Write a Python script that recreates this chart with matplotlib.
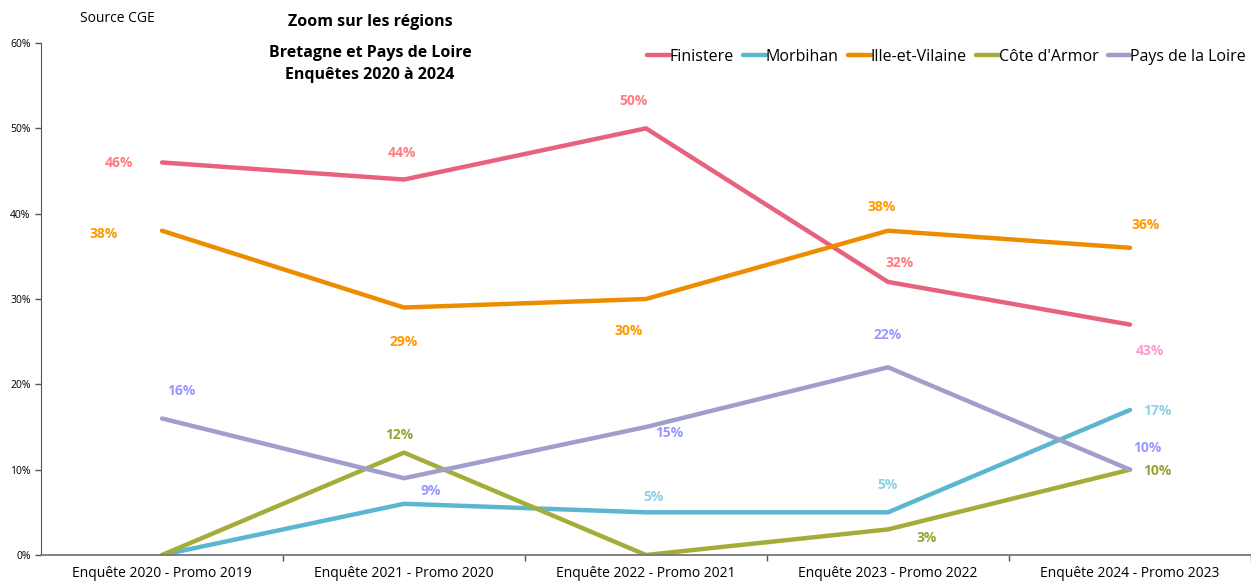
import matplotlib.pyplot as plt
from matplotlib.ticker import FuncFormatter, FixedLocator

plt.rcParams['font.family'] = ['Open Sans', 'DejaVu Sans']

## Data
categories = ['Enquête 2020 - Promo 2019', 'Enquête 2021 - Promo 2020', 'Enquête 2022 - Promo 2021',
              'Enquête 2023 - Promo 2022', 'Enquête 2024 - Promo 2023']
finistere = [46, 44, 50, 32, 27]
morbihan = [0, 6, 5, 5, 17]
ille_et_vilaine = [38, 29, 30, 38, 36]
cote_armor = [0, 12, 0, 3, 10]
pays_loire = [16, 9, 15, 22, 10]

## Data labels as printed on the chart (None = no label)
finistere_lbl = ['46%', '44%', '50%', '32%', '43%']
morbihan_lbl = [None, None, '5%', '5%', '17%']
ille_lbl = ['38%', '29%', '30%', '38%', '36%']
cote_lbl = [None, '12%', None, '3%', '10%']
pays_lbl = ['16%', '9%', '15%', '22%', '10%']

## label offsets in pixels (dx, dy)
finistere_off = [(-43, -1), (-2, 27), (-13, 27), (12, 19), (20, -26)]
morbihan_off = [None, None, (8, 15), (0, 27), (27, -1)]
ille_off = [(-58, -3), (0, -34), (-17, -32), (-6, 24), (16, 23)]
cote_off = [None, (-5, 18), None, (39, -9), (27, -1)]
pays_off = [(19, 27), (27, -13), (23, -6), (0, 32), (17, 22)]

series = [
    ('Finistere', finistere, finistere_lbl, finistere_off, '#E8627F',
     ['#FF7C80', '#FF7C80', '#FF7C80', '#FF7C80', '#FF99CC']),
    ('Morbihan', morbihan, morbihan_lbl, morbihan_off, '#5BB7D0', ['#8ED2E6'] * 5),
    ('Ille-et-Vilaine', ille_et_vilaine, ille_lbl, ille_off, '#EE8C00', ['#FF9900'] * 5),
    ("Côte d'Armor", cote_armor, cote_lbl, cote_off, '#A4AD3A', ['#9AA336'] * 5),
    ('Pays de la Loire', pays_loire, pays_lbl, pays_off, '#A09FCC', ['#9999FF'] * 5),
]

fig = plt.figure(figsize=(12.51, 5.86), dpi=100)
ax = fig.add_axes([41 / 1251, 31 / 586, 1 - 41 / 1251, 512 / 586])

x = list(range(len(categories)))
for name, vals, lbls, offs, col, lcols in series:
    ax.plot(x, vals, color=col, lw=3.2, solid_capstyle='round', solid_joinstyle='round', label=name)
    for i, (v, t, o) in enumerate(zip(vals, lbls, offs)):
        if t is None:
            continue
        ax.annotate(t, (i, v), xytext=o, textcoords='offset pixels', ha='center', va='center',
                    fontsize=10, fontweight='bold', color=lcols[i])

ax.set_xlim(-0.5, 4.5)
ax.set_ylim(0, 60)
ax.set_yticks(range(0, 61, 10))
ax.yaxis.set_major_formatter(FuncFormatter(lambda v, p: f'{v:.0f}%'))
ax.tick_params(axis='y', labelsize=7.5, length=4, color='#555555', width=1)
ax.set_xticks(x)
ax.set_xticklabels(categories, fontsize=10)
ax.tick_params(axis='x', length=0, pad=8)
ax.xaxis.set_minor_locator(FixedLocator([0.5, 1.5, 2.5, 3.5, 4.5]))
ax.tick_params(axis='x', which='minor', length=4, color='#555555', width=1)
for s in ['top', 'right']:
    ax.spines[s].set_visible(False)
ax.spines['left'].set_color('#555555')
ax.spines['bottom'].set_color('#777777')
ax.spines['bottom'].set_linewidth(1.3)

ax.legend(loc='center right', bbox_to_anchor=(0.996, 1 - 14 / 512), ncol=5, frameon=False,
          fontsize=11.5, handlelength=1.4, handletextpad=0.0, columnspacing=0.6,
          borderpad=0, borderaxespad=0)

fig.text(117 / 1251, 1 - 18 / 586, 'Source CGE', ha='center', va='center', fontsize=10)
fig.text(370 / 1251, 1 - 22 / 586, 'Zoom sur les régions', ha='center', va='center',
         fontsize=11.5, fontweight='bold')
fig.text(370 / 1251, 1 - 64 / 586, 'Bretagne et Pays de Loire\nEnquêtes 2020 à 2024', ha='center',
         va='center', fontsize=11.5, fontweight='bold', linespacing=1.5)

fig.savefig('out.png', dpi=100)
